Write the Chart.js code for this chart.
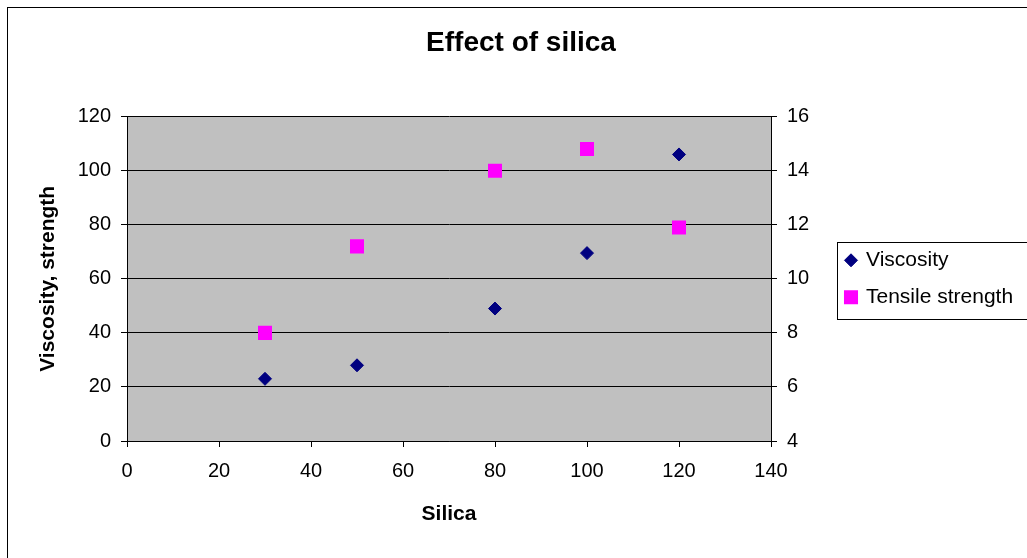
<!DOCTYPE html>
<html>
<head>
<meta charset="utf-8">
<title>Effect of silica</title>
<script src="https://cdn.jsdelivr.net/npm/chart.js@4.4.1/dist/chart.umd.min.js"></script>
<style>
  html, body { margin: 0; padding: 0; background: #fff; }
  #chart { display: block; }
</style>
</head>
<body>
<canvas id="chart" width="1027" height="558"></canvas>
<script>
// values
const silica = [30, 50, 80, 100, 120];
const viscosity = [23, 28, 49, 69.5, 106];
const tensileStrength = [8, 11.2, 14, 14.8, 11.9];
const xTicks = [0, 20, 40, 60, 80, 100, 120, 140];
const leftTicks = [0, 20, 40, 60, 80, 100, 120];
const rightTicks = [4, 6, 8, 10, 12, 14, 16];

const FONT = "'Liberation Sans', Arial, sans-serif";

const toPoints = (xs, ys) => xs.map((x, i) => ({ x: x, y: ys[i] }));
const stepOf = ticks => ticks[1] - ticks[0];
const last = arr => arr[arr.length - 1];

// white page, outer frame and the grey plot area
const backgroundPlugin = {
    id: 'background',
    beforeDraw(chart) {
        const { ctx, chartArea } = chart;
        ctx.save();
        ctx.fillStyle = '#fff';
        ctx.fillRect(0, 0, chart.width, chart.height);
        ctx.strokeStyle = '#000';
        ctx.lineWidth = 1;
        ctx.strokeRect(7.5, 7.5, chart.width + 50, chart.height + 50);
        ctx.fillStyle = '#c0c0c0';
        ctx.fillRect(chartArea.left, chartArea.top, chartArea.right - chartArea.left, chartArea.bottom - chartArea.top);
        ctx.restore();
    }
};

// Excel-style legend box to the right of the plot, running off the edge.
// The built-in legend gets squeezed to a third of half the width, so draw it here.
const excelLegendPlugin = {
    id: 'excelLegend',
    afterDraw(chart) {
        const { ctx, chartArea } = chart;
        const boxLeft = Math.round(chartArea.right) + 66;
        const midY = (chartArea.top + chartArea.bottom) / 2;
        const rowGap = 37;
        const datasets = chart.data.datasets;
        const firstY = midY - rowGap * (datasets.length - 1) / 2;
        const top = Math.round(firstY - 18.5);
        const bottom = Math.round(firstY + rowGap * (datasets.length - 1) + 22);

        ctx.save();
        ctx.strokeStyle = '#000';
        ctx.lineWidth = 1;
        ctx.strokeRect(boxLeft + 0.5, top + 0.5, chart.width, bottom - top);

        ctx.font = '21px ' + FONT;
        ctx.textBaseline = 'middle';
        ctx.textAlign = 'left';
        datasets.forEach((ds, i) => {
            const y = firstY + i * rowGap;
            ctx.fillStyle = ds.backgroundColor;
            ctx.strokeStyle = ds.borderColor;
            ctx.lineWidth = ds.borderWidth;
            Chart.helpers.drawPoint(ctx, {
                pointStyle: ds.pointStyle,
                radius: ds.pointRadius,
                borderWidth: ds.borderWidth,
                rotation: 0
            }, boxLeft + 14, y);
            ctx.fillStyle = '#000';
            ctx.fillText(ds.label, boxLeft + 29, y);
        });
        ctx.restore();
    }
};

const tickFont = { family: FONT, size: 20 };
const titleFont = { family: FONT, size: 21, weight: 'bold' };

new Chart(document.getElementById('chart'), {
    type: 'scatter',
    data: {
        datasets: [
            {
                label: 'Viscosity',
                data: toPoints(silica, viscosity),
                yAxisID: 'y',
                pointStyle: 'rectRot',
                pointRadius: 6.5,
                pointHoverRadius: 6.5,
                backgroundColor: '#000080',
                borderColor: '#000080',
                borderWidth: 1
            },
            {
                label: 'Tensile strength',
                data: toPoints(silica, tensileStrength),
                yAxisID: 'y2',
                pointStyle: 'rect',
                pointRadius: 7.1,
                pointHoverRadius: 7.1,
                backgroundColor: '#ff00ff',
                borderColor: '#ff00ff',
                borderWidth: 4
            }
        ]
    },
    options: {
        responsive: false,
        animation: false,
        devicePixelRatio: 1,
        // left padding puts the title centre where Excel had it
        layout: { padding: { left: 15, right: 0, top: 0, bottom: 0 } },
        plugins: {
            title: {
                display: true,
                text: 'Effect of silica',
                color: '#000',
                font: { family: FONT, size: 28, weight: 'bold' },
                padding: { top: 26, bottom: 57 }
            },
            legend: { display: false },
            tooltip: { enabled: false }
        },
        scales: {
            x: {
                type: 'linear',
                position: 'bottom',
                min: xTicks[0],
                max: last(xTicks),
                ticks: { stepSize: stepOf(xTicks), color: '#000', font: tickFont, padding: 12 },
                grid: { drawOnChartArea: false, drawTicks: true, tickLength: 6, color: '#000' },
                border: { color: '#000', width: 1 },
                title: { display: true, text: 'Silica', color: '#000', font: titleFont, padding: { top: 0, bottom: 31 } },
                afterFit: s => { s.height = 117; }
            },
            y: {
                type: 'linear',
                position: 'left',
                min: leftTicks[0],
                max: last(leftTicks),
                ticks: { stepSize: stepOf(leftTicks), color: '#000', font: tickFont, padding: 10 },
                grid: { color: '#000', lineWidth: 1, drawTicks: true, tickLength: 6 },
                border: { color: '#000', width: 1 },
                title: { display: true, text: 'Viscosity, strength', color: '#000', font: titleFont, padding: { top: 21, bottom: 0 } },
                afterFit: s => { s.width = 112; }
            },
            y2: {
                type: 'linear',
                position: 'right',
                min: rightTicks[0],
                max: last(rightTicks),
                ticks: { stepSize: stepOf(rightTicks), color: '#000', font: tickFont, padding: 10 },
                grid: { drawOnChartArea: false, drawTicks: true, tickLength: 6, color: '#000' },
                border: { color: '#000', width: 1 },
                // the axis box also holds the legend space
                afterFit: s => { s.width = 256; }
            }
        }
    },
    plugins: [backgroundPlugin, excelLegendPlugin]
});
</script>
</body>
</html>
